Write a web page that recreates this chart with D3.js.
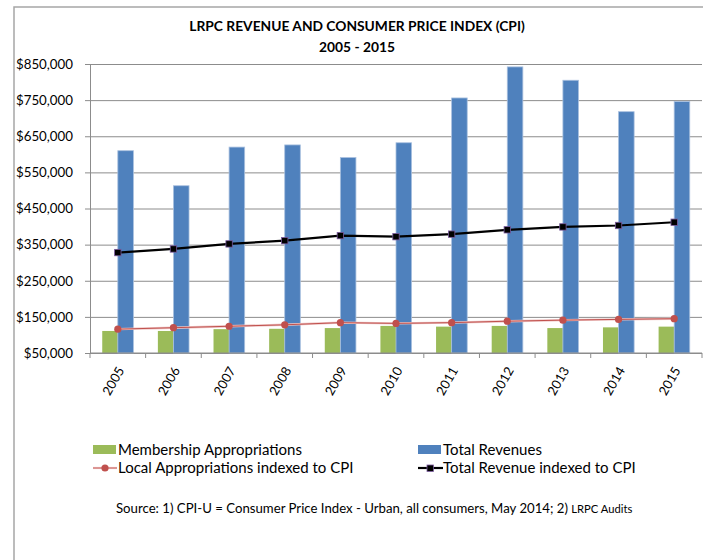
<!DOCTYPE html>
<html>
<head>
<meta charset="utf-8">
<script src="https://cdn.jsdelivr.net/npm/d3@7"></script>
<style>
  body { margin: 0; background: #fff; }
  text { font-family: Lato, "Open Sans", sans-serif; fill: #000; }
</style>
</head>
<body>
<div id="app"></div>
<script>
const years = ['2005', '2006', '2007', '2008', '2009', '2010', '2011', '2012', '2013', '2014', '2015'];
const membership = [111000, 111000, 116000, 117000, 119000, 125000, 123000, 125000, 119000, 121000, 123000];
const totalRevenues = [610000, 513000, 620000, 626000, 591000, 632000, 756000, 842000, 805000, 718000, 746000];
const localCPI = [116000, 120000, 124000, 128000, 134000, 132000, 134000, 138000, 141000, 143000, 145000];
const totalCPI = [328000, 338000, 352000, 361000, 375000, 372000, 379000, 391000, 399000, 403000, 412000];
const yTicks = [50000, 150000, 250000, 350000, 450000, 550000, 650000, 750000, 850000];

let width = 703, height = 560;
let plot = { left: 90, right: 702, top: 64, bottom: 353 };

let svg = d3.select('#app').append('svg').attr('width', width).attr('height', height);

// chart border (left and top visible)
svg.append('path')
    .attr('d', `M14,${height} L14,7 L${width},7`)
    .attr('fill', 'none')
    .attr('stroke', '#a6a6a6')
    .attr('stroke-width', 1.5);

svg.append('text').attr('x', 357).attr('y', 31)
    .attr('text-anchor', 'middle').attr('font-weight', 'bold').attr('font-size', 13.8)
    .text('LRPC REVENUE AND CONSUMER PRICE INDEX (CPI)');
svg.append('text').attr('x', 357).attr('y', 52)
    .attr('text-anchor', 'middle').attr('font-weight', 'bold').attr('font-size', 13.8)
    .text('2005 - 2015');

const x = d3.scaleBand().domain(years).range([plot.left, plot.right]).padding(0);
const y = d3.scaleLinear().domain([50000, 850000]).range([plot.bottom, plot.top]);
const bw = x.bandwidth() * 0.28;
const cx = d => x(d) + x.bandwidth() / 2;

// gridlines
svg.append('g')
    .attr('transform', `translate(${plot.left},0)`)
    .call(d3.axisLeft(y).tickValues(yTicks).tickSize(-(plot.right - plot.left)).tickFormat(''))
    .call(g => g.select('.domain').remove())
    .call(g => g.selectAll('line').attr('stroke', '#8c8c8c'));

// y axis
svg.append('g')
    .attr('transform', `translate(${plot.left},0)`)
    .call(d3.axisLeft(y).tickValues(yTicks).tickSize(5).tickPadding(12).tickFormat(d3.format('$,')))
    .call(g => g.select('.domain').attr('stroke', '#8c8c8c'))
    .call(g => g.selectAll('line').attr('stroke', '#8c8c8c'))
    .call(g => g.selectAll('text').attr('font-size', 13.3).attr('font-family', 'Lato'));

// bars
svg.append('g').selectAll('rect').data(years)
    .enter().append('rect')
    .attr('x', d => cx(d) - bw)
    .attr('y', (d, i) => y(membership[i]))
    .attr('width', bw)
    .attr('height', (d, i) => y(50000) - y(membership[i]))
    .attr('fill', '#9bbb59');

svg.append('g').selectAll('rect').data(years)
    .enter().append('rect')
    .attr('x', d => cx(d))
    .attr('y', (d, i) => y(totalRevenues[i]))
    .attr('width', bw)
    .attr('height', (d, i) => y(50000) - y(totalRevenues[i]))
    .attr('fill', '#4f81bd')
    .attr('stroke', '#a9c0df')
    .attr('stroke-width', 0.8);

// x axis line and ticks between categories
svg.append('line')
    .attr('x1', plot.left).attr('x2', plot.right)
    .attr('y1', plot.bottom).attr('y2', plot.bottom)
    .attr('stroke', '#8c8c8c');
svg.append('g').selectAll('line').data(years.concat(['end']))
    .enter().append('line')
    .attr('x1', (d, i) => plot.left + i * x.bandwidth())
    .attr('x2', (d, i) => plot.left + i * x.bandwidth())
    .attr('y1', plot.bottom).attr('y2', plot.bottom + 5)
    .attr('stroke', '#8c8c8c');

svg.append('g').selectAll('text').data(years)
    .enter().append('text')
    .attr('transform', d => `translate(${cx(d) + 3},${plot.bottom + 15}) rotate(-60)`)
    .attr('text-anchor', 'end')
    .attr('dy', '0.35em')
    .attr('font-size', 13)
    .text(d => d);

// lines
const line = d3.line().x(d => cx(d.year)).y(d => y(d.value));
const localPts = years.map((d, i) => ({ year: d, value: localCPI[i] }));
const totalPts = years.map((d, i) => ({ year: d, value: totalCPI[i] }));

svg.append('path').datum(localPts)
    .attr('d', line).attr('fill', 'none')
    .attr('stroke', '#eec4c3').attr('stroke-width', 2.4);
svg.append('path').datum(localPts)
    .attr('d', line).attr('fill', 'none')
    .attr('stroke', '#c0504d').attr('stroke-width', 1);
svg.append('g').selectAll('circle').data(localPts)
    .enter().append('circle')
    .attr('cx', d => cx(d.year)).attr('cy', d => y(d.value))
    .attr('r', 3.6).attr('fill', '#c0504d');

svg.append('path').datum(totalPts)
    .attr('d', line).attr('fill', 'none')
    .attr('stroke', '#000').attr('stroke-width', 2.2);
svg.append('g').selectAll('rect').data(totalPts)
    .enter().append('rect')
    .attr('x', d => cx(d.year) - 3.2).attr('y', d => y(d.value) - 3.2)
    .attr('width', 6.4).attr('height', 6.4)
    .attr('fill', '#000').attr('stroke', '#7a5a9e').attr('stroke-width', 0.8);

// legend
const legend = svg.append('g');
legend.append('rect').attr('x', 93).attr('y', 445).attr('width', 23).attr('height', 9).attr('fill', '#9bbb59');
legend.append('text').attr('x', 118).attr('y', 455).attr('font-size', 15).text('Membership Appropriations');
legend.append('line').attr('x1', 93).attr('x2', 117).attr('y1', 468).attr('y2', 468).attr('stroke', '#eec4c3').attr('stroke-width', 2.2);
legend.append('line').attr('x1', 93).attr('x2', 117).attr('y1', 468).attr('y2', 468).attr('stroke', '#c0504d').attr('stroke-width', 0.8);
legend.append('circle').attr('cx', 105).attr('cy', 468).attr('r', 3.6).attr('fill', '#c0504d');
legend.append('text').attr('x', 118).attr('y', 473).attr('font-size', 15).text('Local Appropriations indexed to CPI');

legend.append('rect').attr('x', 418).attr('y', 445).attr('width', 23).attr('height', 9).attr('fill', '#4f81bd');
legend.append('text').attr('x', 443).attr('y', 455).attr('font-size', 15).text('Total Revenues');
legend.append('line').attr('x1', 418).attr('x2', 443).attr('y1', 468).attr('y2', 468).attr('stroke', '#000').attr('stroke-width', 2.2);
legend.append('rect').attr('x', 427).attr('y', 465).attr('width', 6.4).attr('height', 6.4).attr('fill', '#000').attr('stroke', '#7a5a9e').attr('stroke-width', 0.8);
legend.append('text').attr('x', 443).attr('y', 473).attr('font-size', 15).text('Total Revenue indexed to CPI');

const source = svg.append('text').attr('x', 116).attr('y', 513).attr('font-size', 13.2);
source.append('tspan').text('Source: 1) CPI-U = Consumer Price Index - Urban, all consumers, May 2014; 2) ');
source.append('tspan').attr('font-size', 11.2).text('LRPC Audits');
</script>
</body>
</html>
